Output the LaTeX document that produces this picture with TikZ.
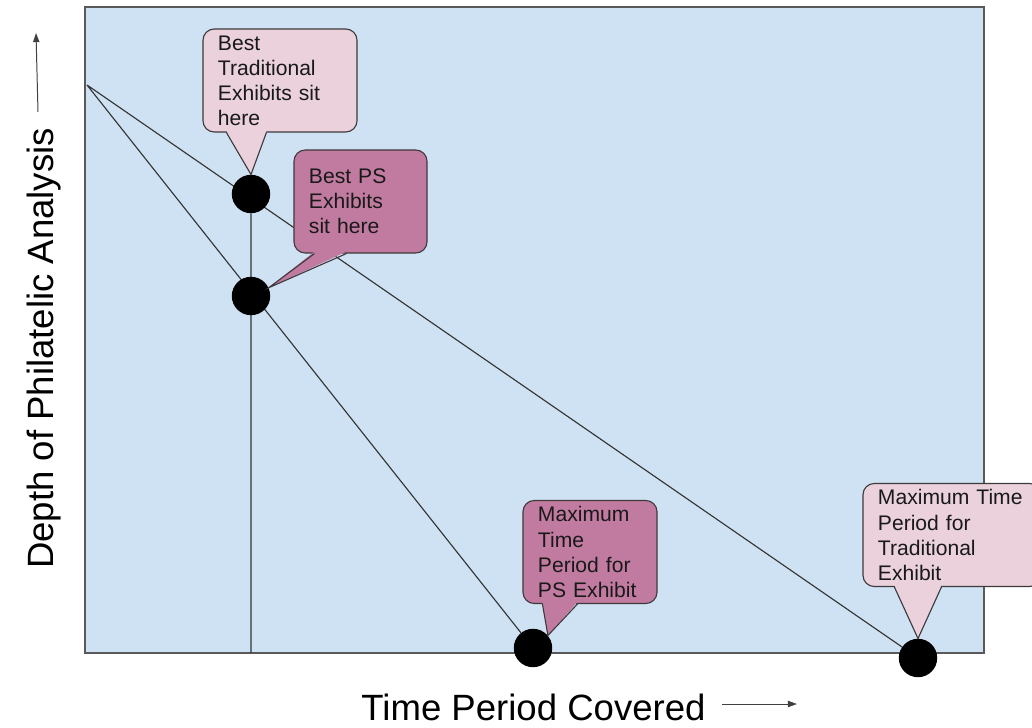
\documentclass[tikz,border=0pt]{standalone}
\usepackage{fontspec}
\setmainfont{Liberation Sans}
\usetikzlibrary{arrows.meta,backgrounds,calc}

\definecolor{chartblue}{HTML}{CFE2F3}
\definecolor{tradpink}{HTML}{EAD1DC}
\definecolor{psmagenta}{HTML}{C27BA0}
\definecolor{rimgray}{HTML}{3E3A3C}

\tikzset{
  blob/.style={circle, fill=black, minimum size=0.96cm, inner sep=0pt},
  bubble/.style={draw=rimgray, line width=0.8pt, rounded corners=8pt, align=left,
    inner xsep=0.375cm, inner ysep=1pt, minimum height=2.575cm,
    font=\fontsize{15}{17.8}\selectfont, text=black!90},
  axislabel/.style={font=\fontsize{26}{30}\selectfont, anchor=base},
  axisarrow/.style={-{Triangle[length=6.5pt,width=4.5pt]}, line width=0.7pt, draw=black!75},
  guide/.style={draw=black!80, line width=0.8pt}
}

\begin{document}
\begin{tikzpicture}[x=0.025cm, y=-0.025cm]
  \useasboundingbox (0,0) rectangle (1032,728);
  \clip (0,0) rectangle (1032,728);

  % points on the chart
  \coordinate (apex) at (87,85);
  \coordinate (foot) at (251,653);
  \node[blob] (dotTA) at (251,194) {};
  \node[blob] (dotPS) at (251,296) {};
  \node[blob] (endPS) at (533,648) {};
  \node[blob] (endTA) at (918,658) {};

  \begin{scope}[on background layer]
    \draw[draw=black!65, fill=chartblue, line width=0.9pt] (85,7) rectangle (984,653);
    \draw[guide] (apex) -- (endTA) (apex) -- (endPS) (dotTA) -- (foot);
  \end{scope}

  % callouts
  \node[bubble, fill=tradpink, text width=3.1cm] (callTA) at (280,80.5)
    {Best\\Traditional\\Exhibits sit\\here};
  \node[bubble, fill=psmagenta, text width=2.575cm] (callPS) at (360.5,201.5)
    {Best PS\\Exhibits\\sit here};
  \node[bubble, fill=psmagenta, text width=2.6cm] (callMaxPS) at (590,552)
    {Maximum\\Time\\Period for\\PS Exhibit};
  \node[bubble, fill=tradpink, text width=3.7cm] (callMaxTA) at (952,535)
    {Maximum Time\\Period for\\Traditional\\Exhibit};

  \foreach \from/\a/\b/\tip/\tint in {callTA/24/64/dotTA.north/tradpink,
      callPS/21/53/dotPS.25/psmagenta, callMaxPS/20/55/endPS.40/psmagenta,
      callMaxTA/32/79/endTA.north/tradpink}{
    \fill[\tint] ($(\from.south west)+(\a,-2)$) -- (\tip) -- ($(\from.south west)+(\b,-2)$) -- cycle;
    \draw[rimgray, line width=0.8pt] ($(\from.south west)+(\a,0)$) -- (\tip) -- ($(\from.south west)+(\b,0)$);
  }

  % axes
  \node[axislabel] (xlabel) at (533.5,720) {Time Period Covered};
  \node[axislabel, rotate=90] (ylabel) at (53,348.5) {Depth of Philatelic Analysis};
  \coordinate (yTail) at (38,112);
  \coordinate (yHead) at (36,33);
  \coordinate (xTail) at (722,704);
  \coordinate (xHead) at (797,704);
  \draw[axisarrow] (yTail) -- (yHead);
  \draw[axisarrow] (xTail) -- (xHead);
\end{tikzpicture}
\end{document}
